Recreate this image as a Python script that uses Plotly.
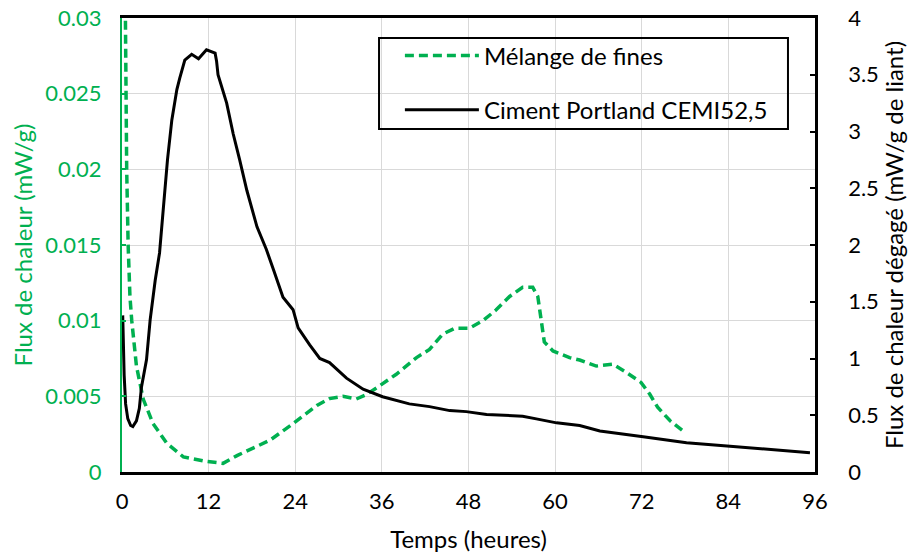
import plotly.graph_objects as go

# ---- data ----
t_fines = [0.3, 0.45, 0.65, 0.85, 1.1, 1.35, 2.0, 2.95, 4.3, 6.2, 8.5, 11.7, 14.0, 16.0, 18.2, 20.5,
           23.7, 27.0, 28.75, 30.6, 32.45, 33.8, 35.7, 38.0, 40.8, 42.6, 44.4, 46.1, 48.1, 50.0,
           51.8, 53.7, 55.5, 56.9, 57.6, 58.1, 58.5, 59.7, 62.0, 63.4, 65.7, 68.0, 69.9, 71.9,
           73.1, 74.2, 75.9, 77.9]
flux_fines = [0.04, 0.028, 0.020, 0.015, 0.0116, 0.010, 0.007, 0.0048, 0.0032, 0.0019, 0.0010,
              0.0007, 0.00057, 0.0011, 0.0016, 0.0021, 0.0032, 0.0044, 0.00485, 0.0050, 0.00482,
              0.0051, 0.0057, 0.00646, 0.00756, 0.0081, 0.0091, 0.0095, 0.0095, 0.0100, 0.0107,
              0.0116, 0.0122, 0.0122, 0.0116, 0.0101, 0.0086, 0.0080, 0.00756, 0.0074, 0.0070,
              0.00712, 0.00657, 0.00592, 0.00515, 0.00428, 0.0034, 0.00264]

t_cem = [0.1, 0.3, 0.5, 0.8, 1.2, 1.5, 2.0, 2.4, 2.7, 3.1, 3.4, 3.9, 4.6, 5.2, 5.7, 6.3, 6.9, 7.6,
         8.0, 8.7, 9.65, 10.6, 11.7, 12.4, 12.9, 13.1, 13.3, 14.5, 15.4, 16.3, 17.3, 18.7, 20.0,
         21.0, 22.3, 23.7, 24.4, 26.0, 27.4, 28.75, 31.1, 33.4, 36.1, 39.8, 42.6, 45.4, 47.7,
         50.5, 55.5, 57.4, 60.2, 63.4, 66.2, 72.2, 78.2, 83.8, 89.3, 95.3]
flux_cem = [1.38, 0.85, 0.6, 0.47, 0.41, 0.40, 0.45, 0.56, 0.75, 0.88, 0.99, 1.34, 1.69, 1.93,
            2.34, 2.75, 3.10, 3.37, 3.47, 3.63, 3.68, 3.64, 3.72, 3.70, 3.69, 3.62, 3.50, 3.25,
            2.98, 2.75, 2.48, 2.16, 1.96, 1.78, 1.54, 1.43, 1.27, 1.12, 1.00, 0.964, 0.827, 0.73,
            0.663, 0.600, 0.576, 0.541, 0.532, 0.506, 0.492, 0.468, 0.433, 0.41, 0.361, 0.311,
            0.258, 0.229, 0.20, 0.17]

x_ticks = [0, 12, 24, 36, 48, 60, 72, 84, 96]
y1_ticks = [0, 0.005, 0.01, 0.015, 0.02, 0.025, 0.03]
y1_labels = ["0", "0.005", "0.01", "0.015", "0.02", "0.025", "0.03"]
y2_ticks = [0, 0.5, 1, 1.5, 2, 2.5, 3, 3.5, 4]
y2_labels = ["0", "0.5", "1", "1.5", "2", "2.5", "3", "3.5", "4"]

GREEN = "#00B050"
FONT = "Lato"
FS = 24      # titles / legend
FT = 22      # tick labels

fig = go.Figure()
fig.add_trace(go.Scatter(x=t_fines, y=flux_fines, mode="lines", name="Mélange de fines",
                         line=dict(color=GREEN, width=3.5, dash="9px,5px"),
                         legendgroup="a", yaxis="y"))
fig.add_trace(go.Scatter(x=t_cem, y=flux_cem, mode="lines", name="Ciment Portland CEMI52,5",
                         line=dict(color="black", width=3), legendgroup="b", yaxis="y2"))

fig.update_layout(
    width=908, height=556,
    margin=dict(l=122, r=93, t=18, b=84),
    paper_bgcolor="white", plot_bgcolor="white",
    font=dict(family=FONT, size=FS, color="black"),
    showlegend=True,
    legend=dict(x=0.401, y=0.966, xanchor="left", yanchor="top",
                bgcolor="rgba(0,0,0,0)", borderwidth=0,
                font=dict(family=FONT, size=FS, color="black"),
                tracegroupgap=20, itemwidth=74),
    xaxis=dict(range=[0, 96], tickvals=x_ticks, ticktext=[str(v) for v in x_ticks],
               showgrid=True, gridcolor="#D9D9D9", gridwidth=1.3,
               showline=True, linecolor="black", linewidth=2.5, mirror=True,
               ticks="", zeroline=False, ticklabelstandoff=8, ticklabeloverflow="allow",
               tickfont=dict(family=FONT, size=FT, color="black"),
               title=dict(text="Temps (heures)", standoff=19,
                          font=dict(family=FONT, size=FS, color="black")),
               automargin=False),
    yaxis=dict(range=[0, 0.03], tickvals=y1_ticks, ticktext=y1_labels,
               showgrid=True, gridcolor="#D9D9D9", gridwidth=1.3,
               showline=True, linecolor=GREEN, linewidth=2,
               ticks="inside", ticklen=4, tickcolor=GREEN, tickwidth=1.5,
               tickfont=dict(family=FONT, size=FT, color=GREEN),
               zeroline=False, ticklabelstandoff=14, ticklabeloverflow="allow",
               title=dict(text="Flux de chaleur (mW/g)", standoff=6,
                          font=dict(family=FONT, size=FS, color=GREEN)),
               automargin=False),
    yaxis2=dict(range=[0, 4], tickvals=y2_ticks, ticktext=y2_labels,
                overlaying="y", side="right", showgrid=False,
                showline=True, linecolor="black", linewidth=2.5,
                ticks="inside", ticklen=5, tickcolor="black", tickwidth=1.5,
                tickfont=dict(family=FONT, size=FT, color="black"),
                zeroline=False, ticklabelstandoff=26, ticklabeloverflow="allow",
                title=dict(text="Flux de chaleur dégagé (mW/g de liant)", standoff=8,
                           font=dict(family=FONT, size=FS, color="black")),
                automargin=False),
    shapes=[dict(type="rect", xref="paper", yref="paper",
                 x0=0.3709, x1=0.961, y0=0.7555, y1=0.956,
                 line=dict(color="black", width=2), fillcolor="rgba(0,0,0,0)")],
)

fig.write_html("out.html", config={"displayModeBar": False},
               post_script="document.body.style.margin='0';document.body.style.overflow='hidden';")
